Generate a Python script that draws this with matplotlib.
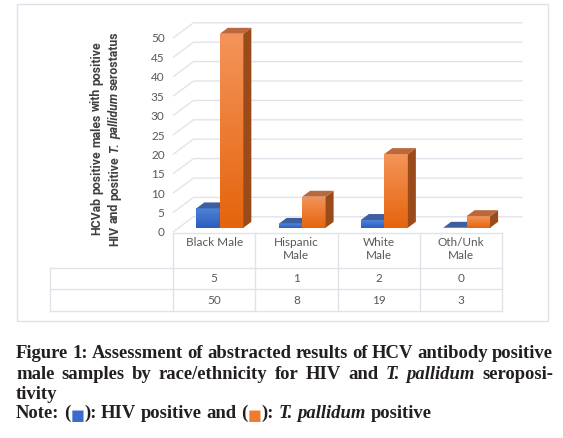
import matplotlib
matplotlib.use('Agg')
import matplotlib.pyplot as plt
import numpy as np
from matplotlib.patches import Rectangle, Polygon
from matplotlib.lines import Line2D
from matplotlib.colors import LinearSegmentedColormap

# ---------------- data ----------------
categories = ["Black Male", "Hispanic\nMale", "White\nMale", "Oth/Unk\nMale"]
hiv_positive = [5, 1, 2, 0]
tp_positive = [50, 8, 19, 3]
y_ticks = [0, 5, 10, 15, 20, 25, 30, 35, 40, 45, 50]

W, H = 563, 438
fig = plt.figure(figsize=(W / 100, H / 100), dpi=100)
fig.patch.set_facecolor('white')


def fx(px):
    return px / W


def fy(py):
    return 1 - py / H


CHART_FONT = 'Lato'
GRAY = '#595959'
LINE = '#e0e4ea'

# chart frame
fig.add_artist(Rectangle((fx(17), fy(321)), fx(548) - fx(17), fy(4) - fy(321),
                         transform=fig.transFigure, fill=False, ec='#dde2ea', lw=1))

# ---------------- axes ----------------
SX, SY = 82.25, 3.88          # px per data unit
AXL, AXR, AXB, AXT = 173, 523, 232, 22
ax = fig.add_axes([fx(AXL), fy(AXB), (AXR - AXL) / W, (AXB - AXT) / H])
ax.patch.set_alpha(0)
for s in ax.spines.values():
    s.set_visible(False)
ax.set_xticks([])
ax.set_yticks(y_ticks)
ax.set_yticklabels([str(v) for v in y_ticks], family=CHART_FONT)
ax.tick_params(axis='y', length=0, pad=6, labelsize=8.5, labelcolor=GRAY)

n = len(categories)
DX, DY = 20.5 / SX, 15.2 / SY   # full floor depth in data units

# back-wall / side-wall gridlines
for v in y_ticks:
    ax.plot([0, DX, n + DX], [v, v + DY, v + DY], color=LINE, lw=1,
            zorder=1, clip_on=False, solid_capstyle='butt')

# bars
xc = np.arange(n) + 0.5
f0, fd = 0.28, 0.39
ox, oy = f0 * DX, f0 * DY
bdx, bdy = fd * DX, fd * DY
w = 23.5 / SX

series = [
    (hiv_positive, -1, ('#2b5cbf', '#4f82d8'), '#3d5f9f', '#2c4a8a', 3),
    (tp_positive, 0, ('#e5640c', '#f4945a'), '#b9693d', '#9b4a19', 4),
]
grad = np.linspace(0, 1, 256).reshape(-1, 1)
for vals, k, (c_bot, c_top), c_roof, c_side, z in series:
    cmap = LinearSegmentedColormap.from_list('g', [c_bot, c_top])
    bars = ax.bar(xc + ox + k * w, vals, width=w, bottom=oy, align='edge',
                  color=c_bot, lw=0, zorder=z)
    for b in bars:
        x0, x1 = b.get_x(), b.get_x() + b.get_width()
        y0, y1 = b.get_y(), b.get_y() + b.get_height()
        if y1 > y0:
            im = ax.imshow(grad, extent=[x0, x1, y0, y1], origin='lower',
                           aspect='auto', cmap=cmap, zorder=z,
                           interpolation='bilinear')
            im.set_clip_path(b)
        ax.add_patch(Polygon([(x1, y0), (x1 + bdx, y0 + bdy), (x1 + bdx, y1 + bdy), (x1, y1)],
                             closed=True, fc=c_side, ec='none', zorder=z))
        ax.add_patch(Polygon([(x0, y1), (x1, y1), (x1 + bdx, y1 + bdy), (x0 + bdx, y1 + bdy)],
                             closed=True, fc=c_roof, ec='none', zorder=z))

ax.set_xlim(0, (AXR - AXL) / SX)
ax.set_ylim(0, (AXB - AXT) / SY)

# ---------------- data table ----------------
col_px = [AXL + i * SX for i in range(n + 1)]
row_px = [233, 268, 289, 311]
TL = 50


def hline(py, x0, x1):
    fig.add_artist(Line2D([fx(x0), fx(x1)], [fy(py), fy(py)], transform=fig.transFigure,
                          color=LINE, lw=1))


def vline(px, y0, y1):
    fig.add_artist(Line2D([fx(px), fx(px)], [fy(y0), fy(y1)], transform=fig.transFigure,
                          color=LINE, lw=1))


hline(row_px[0], col_px[0], col_px[-1])
for r in row_px[1:]:
    hline(r, TL, col_px[-1])
for c in col_px:
    vline(c, row_px[0], row_px[-1])
vline(TL, row_px[1], row_px[-1])

for i, cat in enumerate(categories):
    cx = (col_px[i] + col_px[i + 1]) / 2
    fig.text(fx(cx), fy(236.5), cat, ha='center', va='top', family=CHART_FONT,
             fontsize=8.5, color=GRAY, linespacing=1.3)
    fig.text(fx(cx), fy(279), str(hiv_positive[i]), ha='center', va='center',
             family=CHART_FONT, fontsize=8.5, color=GRAY)
    fig.text(fx(cx), fy(300), str(tp_positive[i]), ha='center', va='center',
             family=CHART_FONT, fontsize=8.5, color=GRAY)

# ---------------- rich text helpers ----------------
renderer = fig.canvas.get_renderer()


def measure(text, props):
    props = {k: v for k, v in props.items() if k != 'dy'}
    t = fig.text(0, 0, text, **props)
    bb = t.get_window_extent(renderer)
    t.remove()
    return bb.width


def draw_words(words, base_props, x_start, y_base, justify=None, rotated=False, center=None):
    space = measure('a a', base_props) - measure('aa', base_props)
    widths = [[measure(txt, {**base_props, **p}) for txt, p in word] for word in words]
    wsum = [sum(ws) for ws in widths]
    if justify is not None and len(words) > 1:
        gap = (justify - sum(wsum)) / (len(words) - 1)
    else:
        gap = space
    total = sum(wsum) + gap * (len(words) - 1)
    pos = x_start
    if rotated:
        pos = center + total / 2
    for word, ws in zip(words, widths):
        for (txt, p), wd in zip(word, ws):
            props = {**base_props, **p}
            dy = props.pop('dy', 0)
            if rotated:
                fig.text(fx(x_start), fy(pos), txt, rotation=90, rotation_mode='anchor',
                         ha='left', va='baseline', **props)
                pos -= wd
            else:
                fig.text(fx(pos), fy(y_base + dy), txt, ha='left', va='baseline', **props)
                pos += wd
        pos = pos - gap if rotated else pos + gap


def plain(s, p=None):
    return [[(wd, p or {})] for wd in s.split()]


# ---------------- y-axis title ----------------
ytitle_props = dict(family='Roboto', fontsize=8.8, fontweight='bold', color='#404040')
ITB = {'fontstyle': 'italic'}
draw_words(plain("HCVab positive males with positive"), ytitle_props, 100, None,
           rotated=True, center=138)
draw_words(plain("HIV and positive") + plain("T. pallidum", ITB) + plain("serostatus"),
           ytitle_props, 118, None, rotated=True, center=139)

# ---------------- caption ----------------
cap_props = dict(family=['Liberation Serif', 'DejaVu Sans'], fontsize=13.4,
                 fontweight='bold', color='#231f20')
IT = {'fontstyle': 'italic'}
draw_words(plain("Figure 1: Assessment of abstracted results of HCV antibody positive"),
           cap_props, 16, 358, justify=537)
draw_words(plain("male samples by race/ethnicity for HIV and") + plain("T. pallidum", IT)
           + plain("seroposi-"), cap_props, 16, 379, justify=537)
draw_words(plain("tivity"), cap_props, 16, 399)
SQ_B = {'family': ['DejaVu Sans'], 'fontsize': 10.5, 'color': '#3a6cc9',
        'fontweight': 'normal', 'dy': 2.5}
SQ_O = {'family': ['DejaVu Sans'], 'fontsize': 10.5, 'color': '#ee7b30',
        'fontweight': 'normal', 'dy': 2.5}
note_words = (plain("Note:") + [[("(", {}), ("\u25a0", SQ_B), ("):", {})]]
              + plain("HIV positive and") + [[("(", {}), ("\u25a0", SQ_O), ("):", {})]]
              + plain("T. pallidum", IT) + plain("positive"))
draw_words(note_words, cap_props, 16, 418)

fig.savefig('out.png', dpi=100, facecolor='white')
